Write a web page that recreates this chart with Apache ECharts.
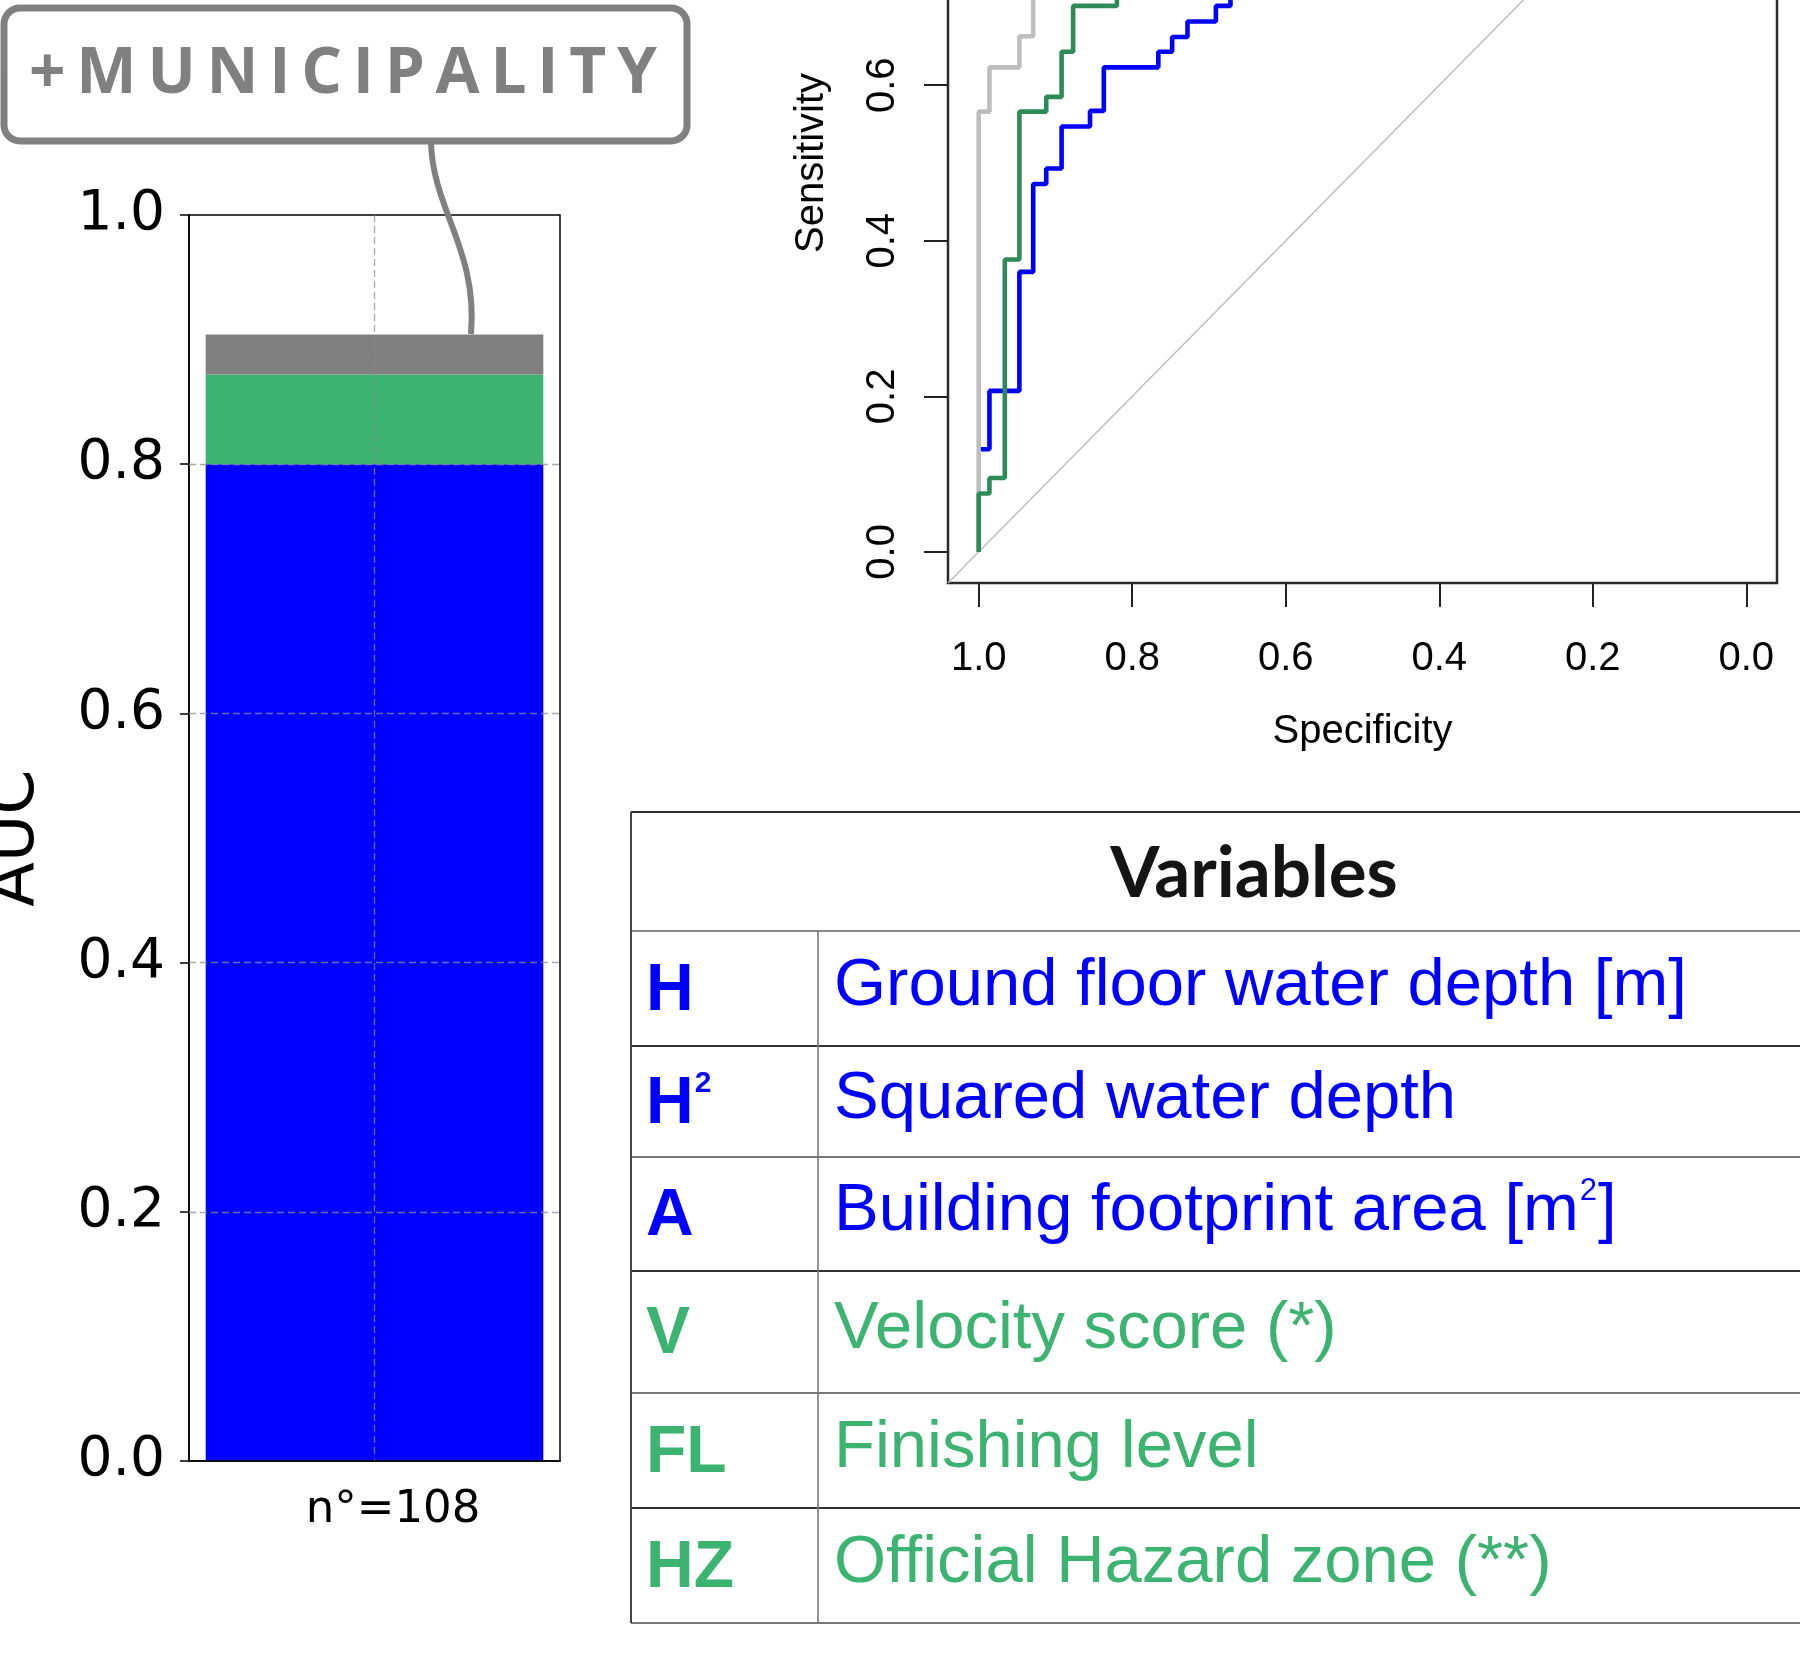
<!DOCTYPE html>
<html><head><meta charset="utf-8">
<script src="https://cdn.jsdelivr.net/npm/echarts@6/dist/echarts.min.js"></script>
<style>html,body{margin:0;padding:0;background:#fff}#c{width:1800px;height:1654px}</style>
</head><body><div id="c"></div>
<script>
// ---------------- DATA ----------------
// Left: stacked AUC bar (cumulative AUC after each block of variables)
const barCategories = ['n°=108'];
const barSeriesNames = ['H, H², A', '+ V, FL, HZ', '+MUNICIPALITY'];
const aucLevels = [0.800, 0.872, 0.904];
const barColors = ['#0000FF', '#3CB371', '#808080'];
const aucTicks = [0, 0.2, 0.4, 0.6, 0.8, 1.0];

// Right: ROC curves, points are [specificity, sensitivity]
const rocTicks = [0, 0.2, 0.4, 0.6, 0.8, 1.0];
const rocBlue = [[1,0.132],[0.986,0.132],[0.986,0.207],[0.947,0.207],[0.947,0.360],
  [0.929,0.360],[0.929,0.473],[0.912,0.473],[0.912,0.493],[0.892,0.493],[0.892,0.547],
  [0.855,0.547],[0.855,0.567],[0.837,0.567],[0.837,0.623],[0.766,0.623],[0.766,0.643],
  [0.748,0.643],[0.748,0.662],[0.728,0.662],[0.728,0.682],[0.691,0.682],[0.691,0.702],
  [0.672,0.702],[0.672,0.72]];
const rocGray = [[1,0],[1,0.566],[0.986,0.566],[0.986,0.623],[0.947,0.623],[0.947,0.663],
  [0.929,0.663],[0.929,0.72]];
const rocGreen = [[1,0],[1,0.075],[0.986,0.075],[0.986,0.095],[0.966,0.095],[0.966,0.376],
  [0.947,0.376],[0.947,0.566],[0.912,0.566],[0.912,0.585],[0.892,0.585],[0.892,0.643],
  [0.877,0.643],[0.877,0.702],[0.820,0.702],[0.820,0.72]];
const chanceLine = [[1.04,-0.04],[-0.04,1.04]];
const rocColors = {blue:'#0000FF', gray:'#BEBEBE', green:'#2E8B57', chance:'#BEBEBE'};

// Table of variables
const tableTitle = 'Variables';
const tableCodes = ['H','H²','A','V','FL','HZ'];
const tableDescs = ['Ground floor water depth [m]','Squared water depth','Building footprint area [m²]',
  'Velocity score (*)','Finishing level','Official Hazard zone (**)'];
const tableColors = ['#0000FF','#0000FF','#0000FF','#3CB371','#3CB371','#3CB371'];
const annotationText = '+MUNICIPALITY';

// ---------------- HELPERS ----------------
const mctx = document.createElement('canvas').getContext('2d');
function measure(font, t){ mctx.font = font; return mctx.measureText(t).width; }
function fontAvailable(fam){
  const s='mmmmmmmmmmlli0123456789WWw';
  return measure('40px monospace', s) !== measure('40px "'+fam+'", monospace', s);
}
const narrowOK = fontAvailable('Liberation Sans Narrow');
const rocFamily = narrowOK ? 'Liberation Sans Narrow' : 'Liberation Sans';
const rocFont = narrowOK ? 43 : 40;

function txt(text, x, y, font, fill, align){
  return {type:'text', z:50, silent:true, style:{text:text, x:x, y:y, font:font, fill:fill,
    textAlign:align||'left', textVerticalAlign:'middle', align:align||'left', verticalAlign:'middle'}};
}
function supText(out, s, x, y, family, weight, size, supSize, fill){
  const parts = s.split('²');
  const f = weight+' '+size+'px "'+family+'"';
  const fs = weight+' '+supSize+'px "'+family+'"';
  out.push(txt(parts[0], x, y, f, fill));
  if (parts.length > 1){
    const w = measure(f, parts[0]);
    out.push(txt('2', x + w + 1, y - 21, fs, fill));
    const w2 = measure(fs, '2');
    if (parts[1]) out.push(txt(parts[1], x + w + w2 + 2, y, f, fill));
  }
}

// ---------------- GRAPHICS (annotation + table) ----------------
const g = [];
// annotation box
g.push({type:'rect', z:40, silent:true, shape:{x:4, y:8, width:683, height:133, r:16},
  style:{fill:'#fff', stroke:'#808080', lineWidth:7}});
(function(){
  const font = 'bold 64px "Open Sans"';
  const chars = [...annotationText];
  const ws = chars.map(c => measure(font, c));
  const tot = ws.reduce((a,b)=>a+b,0);
  const sp = (628 - tot) / (chars.length - 1);
  let x = 29;
  chars.forEach((c,i) => { g.push(txt(c, x, 75, font, '#808080')); x += ws[i] + sp; });
})();
g.push({type:'bezierCurve', z:45, silent:true,
  shape:{x1:431, y1:143, cpx1:433, cpy1:210, cpx2:478, cpy2:250, x2:471, y2:334},
  style:{stroke:'#808080', lineWidth:6, fill:null}});

// table
const tL = 631, tC = 818, tR = 1800, tTop = 812, tHead = 931;
const rowLines = [1046, 1157, 1271, 1393, 1508, 1623];
const lineCol = '#555';
function hl(y, c){ g.push({type:'line', z:30, silent:true, shape:{x1:tL, y1:y, x2:tR, y2:y}, style:{stroke:c||lineCol, lineWidth:2}}); }
hl(tTop, '#333'); hl(tHead, '#888');
rowLines.forEach((y,i) => hl(y, i%2 ? '#777' : '#333'));
g.push({type:'line', z:30, silent:true, shape:{x1:tL, y1:tTop, x2:tL, y2:rowLines[5]}, style:{stroke:'#444', lineWidth:2}});
g.push({type:'line', z:30, silent:true, shape:{x1:tC, y1:tHead, x2:tC, y2:rowLines[5]}, style:{stroke:'#777', lineWidth:1.6}});
g.push(txt(tableTitle, 1254, 874, 'bold 71px Lato', '#141414', 'center'));
let prev = tHead;
rowLines.forEach((y,i) => {
  const c = (prev + y) / 2;
  supText(g, tableCodes[i], 646, c + 3, 'Liberation Sans', 'bold', 66, 30, tableColors[i]);
  supText(g, tableDescs[i], 834, c - 2, 'Liberation Sans', 'normal', 67, 31, tableColors[i]);
  prev = y;
});

// ---------------- CHART ----------------
const gridCol = 'rgba(140,140,140,0.75)';
const increments = aucLevels.map((v,i) => +(v - (i ? aucLevels[i-1] : 0)).toFixed(3));
const rocAxisText = {fontFamily: rocFamily, fontSize: rocFont, color:'#000'};

const option = {
  animation:false,
  backgroundColor:'#fff',
  grid:[
    {left:189, top:215, width:371, height:1246, show:true, borderColor:'#000', borderWidth:1.5,
     backgroundColor:'transparent', containLabel:false, outerBoundsMode:'none'},
    {left:189, top:215, width:371, height:1246, show:false, containLabel:false, outerBoundsMode:'none'},
    {left:948, top:-257, width:829, height:840, show:true, borderColor:'#2b2b2b', borderWidth:2.5,
     backgroundColor:'transparent', containLabel:false, outerBoundsMode:'none'}
  ],
  xAxis:[
    {gridIndex:0, type:'category', data:barCategories, z:6,
     axisLine:{show:true, onZero:false, lineStyle:{color:'#000', width:1.5}},
     axisTick:{show:false},
     axisLabel:{fontSize:45, fontFamily:'DejaVu Sans', color:'#000', margin:27, padding:[0,0,0,37]},
     splitLine:{show:false}},
    {gridIndex:1, type:'value', min:0, max:2, interval:1, z:5,
     axisLine:{show:false}, axisTick:{show:false}, axisLabel:{show:false},
     splitLine:{show:true, showMinLine:false, showMaxLine:false, lineStyle:{type:[7,4], color:gridCol, width:1.3}}},
    {gridIndex:2, type:'value', inverse:true, min:-0.04, max:1.04,
     axisLine:{show:false, onZero:false},
     axisTick:{show:true, customValues:rocTicks, length:24, lineStyle:{color:'#222', width:2}},
     axisLabel:Object.assign({customValues:rocTicks, formatter:v=>v.toFixed(1), margin:56}, rocAxisText),
     splitLine:{show:false},
     name:'Specificity', nameLocation:'middle', nameGap:129, nameTextStyle:rocAxisText}
  ],
  yAxis:[
    {gridIndex:0, type:'value', min:0, max:1, interval:0.2,
     axisLine:{show:true, onZero:false, lineStyle:{color:'#000', width:1.5}},
     axisTick:{show:true, length:9, lineStyle:{color:'#000', width:1.5}},
     axisLabel:{formatter:v=>v.toFixed(1), fontSize:55, fontFamily:'DejaVu Sans', color:'#000', margin:24, padding:[7,0,0,0]},
     splitLine:{show:false},
     name:'AUC', nameLocation:'middle', nameGap:140,
     nameTextStyle:{fontSize:65, fontFamily:'DejaVu Sans', color:'#000'}},
    {gridIndex:1, type:'value', min:0, max:1, interval:0.2, z:5,
     axisLine:{show:false}, axisTick:{show:false}, axisLabel:{show:false},
     splitLine:{show:true, showMinLine:false, showMaxLine:false, lineStyle:{type:[7,4], color:gridCol, width:1.3}}},
    {gridIndex:2, type:'value', min:-0.04, max:1.04,
     axisLine:{show:false, onZero:false},
     axisTick:{show:true, customValues:rocTicks, length:24, lineStyle:{color:'#222', width:2}},
     axisLabel:Object.assign({customValues:rocTicks, formatter:v=>v.toFixed(1), rotate:90, margin:45}, rocAxisText),
     splitLine:{show:false},
     name:'Sensitivity', nameLocation:'middle', nameGap:116, nameTextStyle:rocAxisText}
  ],
  series:[
    ...increments.map((v,i) => ({type:'bar', name:barSeriesNames[i], xAxisIndex:0, yAxisIndex:0,
      stack:'auc', data:[v], barWidth:'91%', itemStyle:{color:barColors[i]}, z:2})),
    {type:'line', xAxisIndex:2, yAxisIndex:2, data:chanceLine, symbol:'none', clip:true,
     lineStyle:{color:rocColors.chance, width:1.5}, z:2},
    {type:'line', xAxisIndex:2, yAxisIndex:2, data:rocBlue, symbol:'none', clip:true,
     lineStyle:{color:rocColors.blue, width:4.6}, z:3},
    {type:'line', xAxisIndex:2, yAxisIndex:2, data:rocGray, symbol:'none', clip:true,
     lineStyle:{color:rocColors.gray, width:4.6}, z:4},
    {type:'line', xAxisIndex:2, yAxisIndex:2, data:rocGreen, symbol:'none', clip:true,
     lineStyle:{color:rocColors.green, width:4.6}, z:5}
  ],
  graphic:{elements:g}
};
const chart = echarts.init(document.getElementById('c'), null, {renderer:'canvas', width:1800, height:1654});
chart.setOption(option);
</script></body></html>
